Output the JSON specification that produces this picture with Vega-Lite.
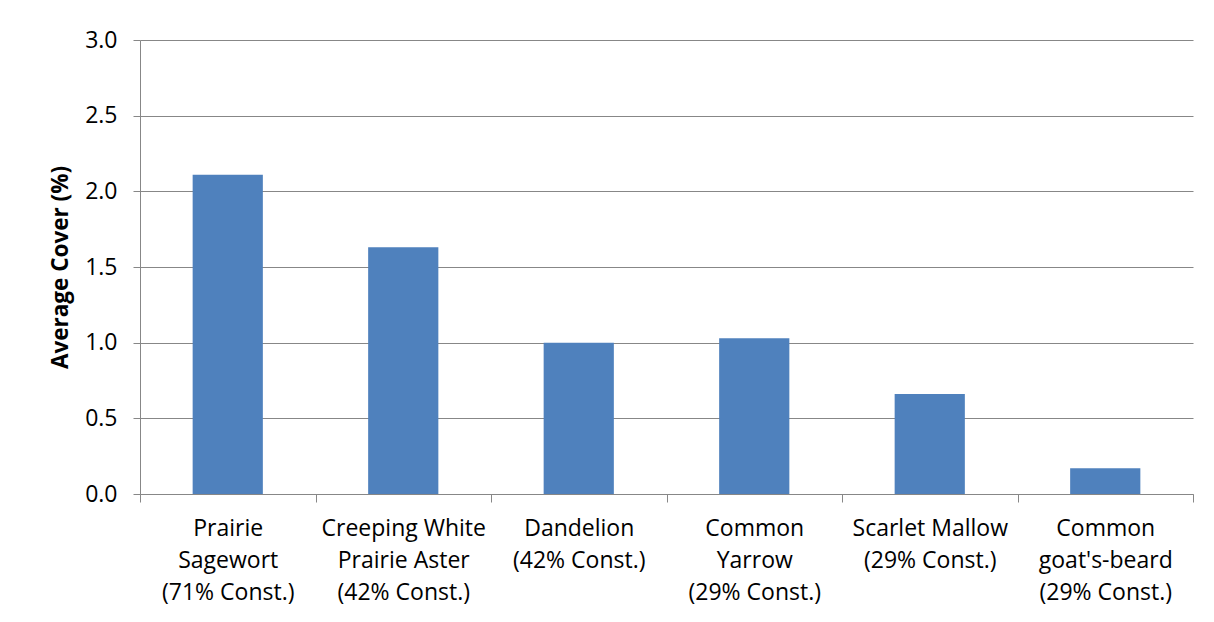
{
  "$schema": "https://vega.github.io/schema/vega-lite/v6.json",
  "width": 1053,
  "height": 454,
  "autosize": {"type": "none"},
  "padding": {"left": 140, "top": 40, "right": 21, "bottom": 128},
  "background": "white",
  "config": {
    "view": {"stroke": null},
    "font": "Open Sans"
  },
  "data": {
    "values": [
      {"species": "Prairie|Sagewort|(71% Const.)", "cover": 2.11},
      {"species": "Creeping White|Prairie Aster|(42% Const.)", "cover": 1.63},
      {"species": "Dandelion|(42% Const.)", "cover": 1.0},
      {"species": "Common|Yarrow|(29% Const.)", "cover": 1.03},
      {"species": "Scarlet Mallow|(29% Const.)", "cover": 0.66},
      {"species": "Common|goat's-beard|(29% Const.)", "cover": 0.17}
    ]
  },
  "mark": {"type": "bar", "color": "#4F81BD", "width": {"band": 0.4}},
  "encoding": {
    "x": {
      "field": "species",
      "type": "nominal",
      "sort": null,
      "scale": {"paddingInner": 0, "paddingOuter": 0},
      "axis": {
        "title": null,
        "labelAngle": 0,
        "labelExpr": "datum.value ? split(datum.value, '|') : ''",
        "labelFont": "Open Sans",
        "labelFontSize": 23,
        "labelColor": "#000000",
        "labelLineHeight": 32,
        "labelPadding": 15,
        "labelBaseline": "top",
        "labelAlign": "center",
        "tickBand": "extent",
        "tickSize": 8,
        "tickColor": "#878787",
        "domainColor": "#878787",
        "domainWidth": 1,
        "tickWidth": 1,
        "grid": false
      }
    },
    "y": {
      "field": "cover",
      "type": "quantitative",
      "scale": {"domain": [0, 3], "nice": false},
      "axis": {
        "title": "Average Cover (%)",
        "titleFont": "Open Sans",
        "titleFontSize": 22.5,
        "titleFontWeight": "bold",
        "titleColor": "#000000",
        "titleAngle": -90,
        "titleX": -80,
        "titleY": 227,
        "titleAlign": "center",
        "titleBaseline": "middle",
        "values": [0, 0.5, 1, 1.5, 2, 2.5, 3],
        "format": ".1f",
        "labelFont": "Open Sans",
        "labelFontSize": 23,
        "labelColor": "#000000",
        "labelPadding": 16,
        "tickSize": 7,
        "tickColor": "#878787",
        "domainColor": "#878787",
        "grid": true,
        "gridColor": "#878787",
        "gridWidth": 1
      }
    }
  }
}
